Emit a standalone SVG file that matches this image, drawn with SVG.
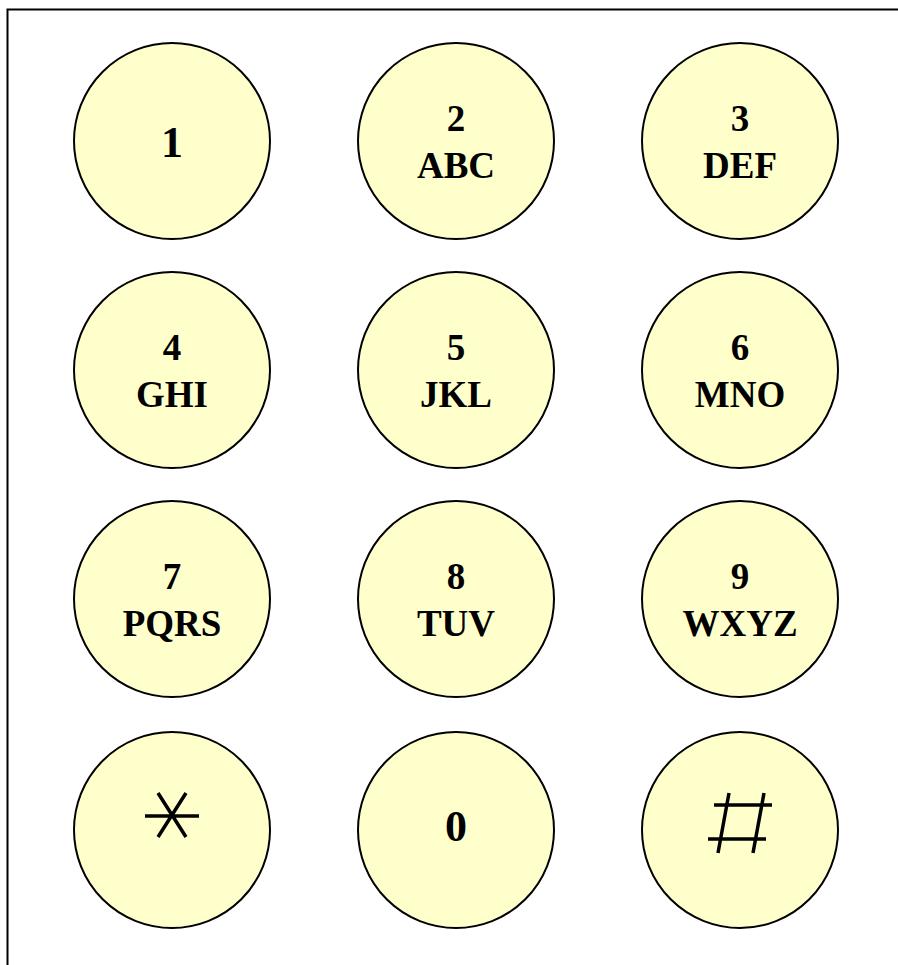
<svg xmlns="http://www.w3.org/2000/svg" width="898" height="965" viewBox="0 0 898 965">
<style>
.key{fill:#FFFFCC;stroke:#000;stroke-width:2}
.t{font-family:"Liberation Serif","Times New Roman",serif;font-weight:bold;font-size:37px;text-anchor:middle;fill:#000}
.big{font-size:44px}
.sym{stroke:#000;stroke-width:3.5;fill:none;stroke-linecap:butt}
</style>
<rect x="7.5" y="9.5" width="1000" height="1000" fill="#fff" stroke="#000" stroke-width="2"/>
<g id="key1"><circle class="key" cx="172" cy="141" r="98"/><text class="t big" x="172" y="157">1</text></g>
<g id="key2"><circle class="key" cx="456" cy="141" r="98"/><text class="t" x="456" y="131">2</text><text class="t" x="456" y="178">ABC</text></g>
<g id="key3"><circle class="key" cx="740" cy="141" r="98"/><text class="t" x="740" y="131">3</text><text class="t" x="740" y="178">DEF</text></g>
<g id="key4"><circle class="key" cx="172" cy="370" r="98"/><text class="t" x="172" y="360">4</text><text class="t" x="172" y="407">GHI</text></g>
<g id="key5"><circle class="key" cx="456" cy="370" r="98"/><text class="t" x="456" y="360">5</text><text class="t" x="456" y="407">JKL</text></g>
<g id="key6"><circle class="key" cx="740" cy="370" r="98"/><text class="t" x="740" y="360">6</text><text class="t" x="740" y="407">MNO</text></g>
<g id="key7"><circle class="key" cx="172" cy="599" r="98"/><text class="t" x="172" y="589">7</text><text class="t" x="172" y="636">PQRS</text></g>
<g id="key8"><circle class="key" cx="456" cy="599" r="98"/><text class="t" x="456" y="589">8</text><text class="t" x="456" y="636">TUV</text></g>
<g id="key9"><circle class="key" cx="740" cy="599" r="98"/><text class="t" x="740" y="589">9</text><text class="t" x="740" y="636">WXYZ</text></g>
<g id="keystar"><circle class="key" cx="172" cy="830" r="98"/>
<path class="sym" d="M145 816H199M158 793L186 837M186 793L158 837"/></g>
<g id="key0"><circle class="key" cx="456" cy="830" r="98"/><text class="t big" x="456" y="841">0</text></g>
<g id="keyhash"><circle class="key" cx="740" cy="830" r="98"/>
<path class="sym" d="M714 805H772M708 839H766M729 793L718 853M764 793L753 853"/></g>
<g id="connectors"></g>
</svg>
